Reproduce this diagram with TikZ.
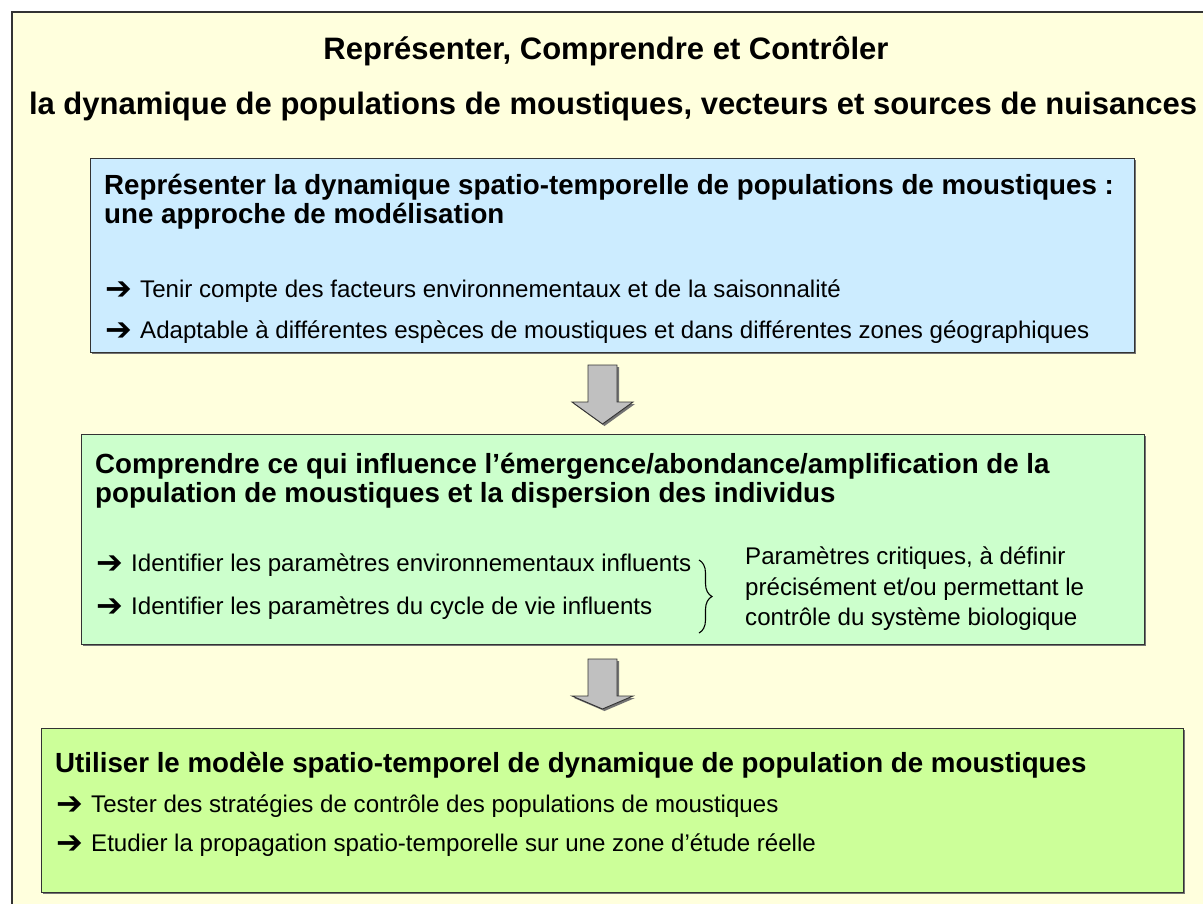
\documentclass[tikz,border=0pt]{standalone}
\usepackage{fontspec}
\setmainfont{Liberation Sans}
\newfontfamily\arrowfont{DejaVu Sans}
\usetikzlibrary{decorations.pathreplacing}
\definecolor{bgyellow}{HTML}{FFFFDD}
\definecolor{boxblue}{HTML}{CCECFF}
\definecolor{boxgreen}{HTML}{CCFFCC}
\definecolor{boxlime}{HTML}{CCFF99}
\definecolor{arrowgray}{HTML}{C0C0C0}
\definecolor{edgegray}{HTML}{333333}
\newcommand{\bul}{\makebox[35pt][l]{\raisebox{-2.5pt}{\arrowfont\fontsize{32}{32}\selectfont ➔}}}
\tikzset{
  panel/.style={draw=edgegray, line width=1.2pt, anchor=north west, inner sep=0pt},
  shadowbox/.style={fill=black!55, draw=none, anchor=north west, inner sep=0pt},
  titletext/.style={font=\fontsize{31}{36}\selectfont\bfseries, anchor=base, inner sep=0pt},
  headtext/.style={font=\fontsize{27.7}{29}\selectfont\bfseries, anchor=base west, inner sep=0pt, align=left},
  bodytext/.style={font=\fontsize{24.1}{30}\selectfont, anchor=base west, inner sep=0pt},
  sidetext/.style={font=\fontsize{24.1}{30}\selectfont, anchor=base west, inner sep=0pt},
  blockarrow/.style={fill=arrowgray, draw=edgegray, line width=0.9pt, line join=miter},
  bracestyle/.style={draw=black, line width=1.1pt, decorate, decoration={brace, amplitude=13pt}}
}
\begin{document}
\begin{tikzpicture}[x=1pt, y=-1pt]
\clip (0,0) rectangle (1203,903);
\fill[white] (0,0) rectangle (1203,903);
% outer frame
\draw[fill=bgyellow, draw=edgegray, line width=1.2pt] (12,12) rectangle (1230,930);
% titles
\node[titletext] (t1) at (606,59) {Représenter, Comprendre et Contrôler};
\node[titletext] (t2) at (613,114) {la dynamique de populations de moustiques, vecteurs et sources de nuisances};
% box 1
\node[shadowbox, minimum width=1044pt, minimum height=194pt] (s1) at (92,160) {};
\node[panel, fill=boxblue, minimum width=1044pt, minimum height=194pt] (b1) at (90,158) {};
\node[headtext] (h1a) at (104,194) {Représenter la dynamique spatio-temporelle de populations de moustiques :};
\node[headtext] (h1b) at (104,223) {une approche de modélisation};
\node[bodytext] (p1a) at (105,297) {\bul Tenir compte des facteurs environnementaux et de la saisonnalité};
\node[bodytext] (p1b) at (105,338) {\bul Adaptable à différentes espèces de moustiques et dans différentes zones géographiques};
% box 2
\node[shadowbox, minimum width=1063pt, minimum height=210pt] (s2) at (83,436) {};
\node[panel, fill=boxgreen, minimum width=1063pt, minimum height=210pt] (b2) at (81,434) {};
\node[headtext] (h2a) at (95,473) {Comprendre ce qui influence l’émergence/abondance/amplification de la};
\node[headtext] (h2b) at (95,502) {population de moustiques et la dispersion des individus};
\node[bodytext] (p2a) at (96,571) {\bul Identifier les paramètres environnementaux influents};
\node[bodytext] (p2b) at (96,614) {\bul Identifier les paramètres du cycle de vie influents};
\coordinate (brtop) at (699,560);
\coordinate (brbot) at (699,633);
\draw[bracestyle] (brtop) -- (brbot);
\node[sidetext] (r1) at (745,564) {Paramètres critiques, à définir};
\node[sidetext] (r2) at (745,595) {précisément et/ou permettant le};
\node[sidetext] (r3) at (745,625) {contrôle du système biologique};
% box 3
\node[shadowbox, minimum width=1142pt, minimum height=164pt] (s3) at (43,730) {};
\node[panel, fill=boxlime, minimum width=1142pt, minimum height=164pt] (b3) at (41,728) {};
\node[headtext] (h3) at (55,772) {Utiliser le modèle spatio-temporel de dynamique de population de moustiques};
\node[bodytext] (p3a) at (56,812) {\bul Tester des stratégies de contrôle des populations de moustiques};
\node[bodytext] (p3b) at (56,851) {\bul Etudier la propagation spatio-temporelle sur une zone d’étude réelle};
% block arrows
\fill[black!55] (590,367) -- (619,367) -- (619,404) -- (635,404) -- (604.5,426) -- (574,404) -- (590,404) -- cycle;
\path[blockarrow] (588,365) -- (617,365) -- (617,402) -- (633,402) -- (602.5,424) -- (572,402) -- (588,402) -- cycle;
\fill[black!55] (590,661) -- (619,661) -- (619,698) -- (635,698) -- (604.5,711) -- (574,698) -- (590,698) -- cycle;
\path[blockarrow] (588,659) -- (617,659) -- (617,696) -- (633,696) -- (602.5,709) -- (572,696) -- (588,696) -- cycle;
\end{tikzpicture}
\end{document}
